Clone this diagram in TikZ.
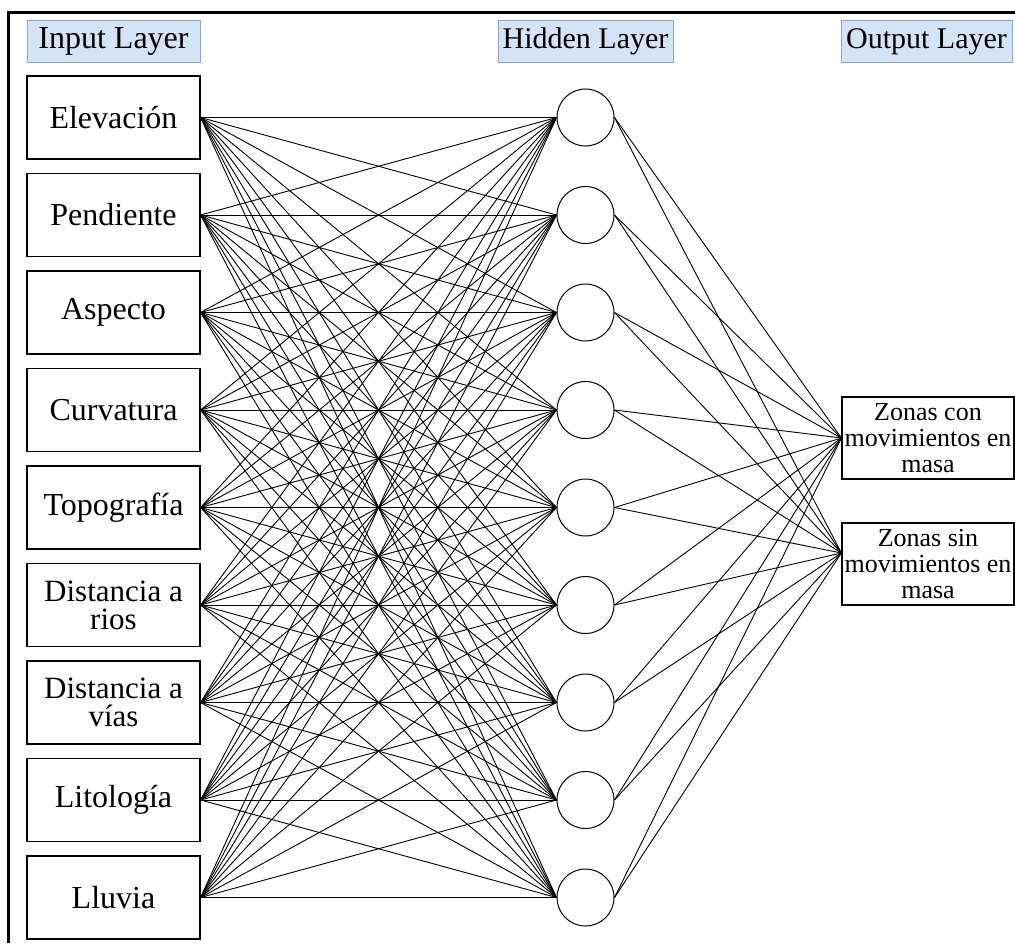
\documentclass[tikz,border=0pt]{standalone}
\usepackage{fontspec}
\setmainfont{Liberation Serif}
\newfontfamily\tnr{Liberation Serif}
\definecolor{hdrfill}{RGB}{210,228,245}
\definecolor{hdrline}{RGB}{140,165,195}
\begin{document}
\begin{tikzpicture}[x=1pt,y=-1pt,
  inbox/.style={draw, line width=1.2pt, minimum width=173pt, minimum height=83pt, inner sep=0pt, align=center, font=\tnr\fontsize{32}{28}\selectfont},
  twoline/.style={font=\tnr\fontsize{31}{28}\selectfont},
  header/.style={draw=hdrline, fill=hdrfill, line width=1pt, minimum height=42pt, inner sep=0pt},
  neuron/.style={circle, draw, line width=1pt, minimum size=57pt, inner sep=0pt},
  outbox/.style={draw, line width=1.2pt, minimum width=172pt, minimum height=82pt, inner sep=0pt, align=center, font=\tnr\fontsize{26}{26}\selectfont},
  conn/.style={line width=0.9pt}]
\useasboundingbox (0,0) rectangle (1015,943);
\fill[white] (0,0) rectangle (1015,943);
% frame
\draw[line width=2.7pt] (8.5,943) -- (8.5,12.5) -- (1015,12.5);
% headers
\node[header, minimum width=173pt, font=\tnr\fontsize{32}{32}\selectfont] (hin) at (113.5,41.5) {Input Layer};
\node[header, minimum width=175pt, font=\tnr\fontsize{30}{30}\selectfont] (hhid) at (585.5,41.5) {Hidden Layer};
\node[header, minimum width=171pt, font=\tnr\fontsize{30}{30}\selectfont] (hout) at (926.5,41.5) {Output Layer};
% input boxes
\node[inbox] (i1) at (113.5,117.5) {Elevación};
\node[inbox] (i2) at (113.5,215) {Pendiente};
\node[inbox] (i3) at (113.5,312.5) {Aspecto};
\node[inbox] (i4) at (113.5,410) {Curvatura};
\node[inbox] (i5) at (113.5,507.5) {Topografía};
\node[inbox, twoline] (i6) at (113.5,605) {Distancia a\\rios};
\node[inbox, twoline] (i7) at (113.5,702.5) {Distancia a\\vías};
\node[inbox] (i8) at (113.5,800) {Litología};
\node[inbox] (i9) at (113.5,897.5) {Lluvia};
% hidden neurons
\foreach \k/\yy in {1/117.5,2/215,3/312.5,4/410,5/507.5,6/605,7/702.5,8/800,9/897.5}
  \node[neuron] (h\k) at (585.5,\yy) {};
% output boxes
\node[outbox] (o1) at (928,438) {Zonas con\\movimientos en\\masa};
\node[outbox] (o2) at (928,564) {Zonas sin\\movimientos en\\masa};
\coordinate (o1in) at (o1.west);
\coordinate (o2in) at ([yshift=11pt]o2.west);
% connections
\foreach \a in {1,...,9}
  \foreach \b in {1,...,9}
    \draw[conn] (i\a.east) -- (h\b.west);
\foreach \b in {1,...,9}{
  \draw[conn] (h\b.east) -- (o1in);
  \draw[conn] (h\b.east) -- (o2in);
}
\end{tikzpicture}
\end{document}
